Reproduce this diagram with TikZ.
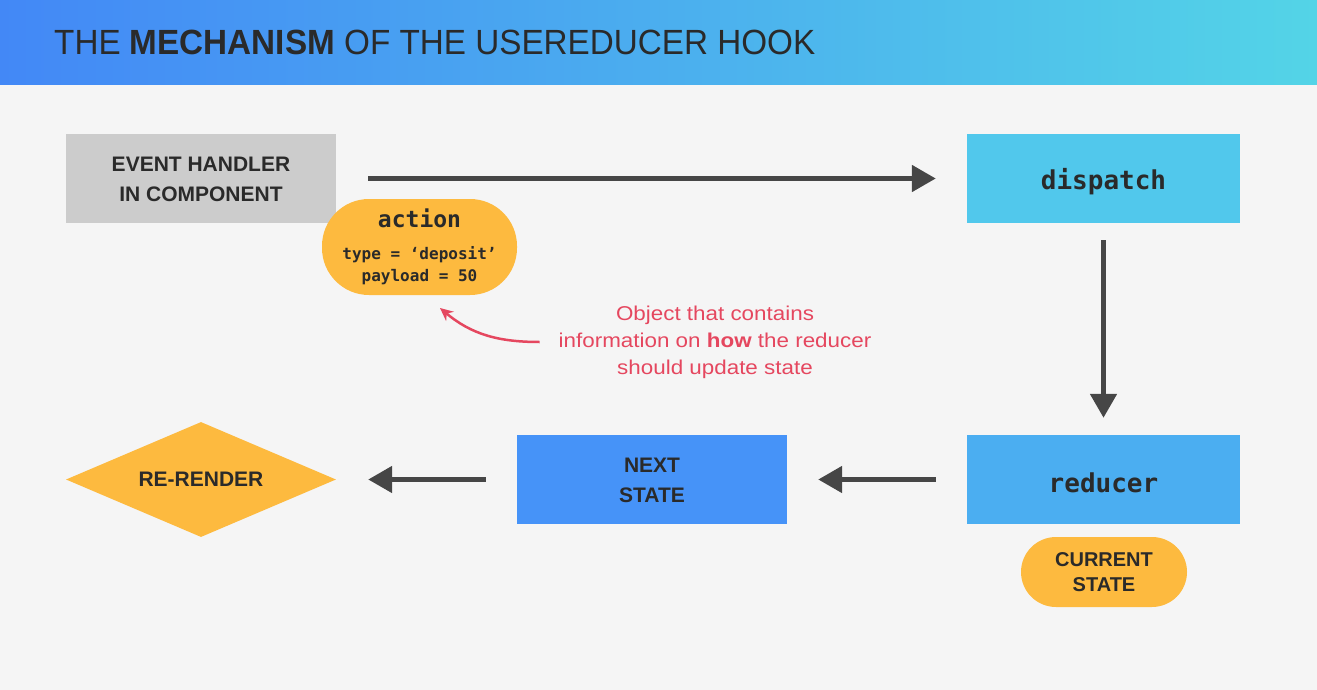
\documentclass[tikz,border=0pt]{standalone}
\usepackage{fontspec}
\setmainfont{Liberation Sans}
\setmonofont{DejaVu Sans Mono}
\usetikzlibrary{shapes.geometric,arrows.meta}
\definecolor{bg}{HTML}{F5F5F5}
\definecolor{hleft}{HTML}{4388F6}
\definecolor{hright}{HTML}{53D4E7}
\definecolor{ink}{HTML}{2A2A2A}
\definecolor{grayb}{HTML}{CCCCCC}
\definecolor{cyanb}{HTML}{51C8EC}
\definecolor{redb}{HTML}{4BAEF1}
\definecolor{nextb}{HTML}{4693F8}
\definecolor{orng}{HTML}{FDBA3F}
\definecolor{arr}{HTML}{464646}
\definecolor{note}{HTML}{E5475F}
\newcommand\pushdown[2]{\raisebox{0pt}[\dimexpr\height+#1\relax][\depth]{#2}}
\tikzset{
  box/.style={minimum width=270pt, minimum height=89pt, inner sep=0pt, align=center, text=ink},
  lbl/.style={font=\fontsize{21}{30}\selectfont\bfseries},
  code/.style={font=\fontsize{26}{30}\ttfamily\bfseries},
  flow/.style={draw=arr, line width=5pt, -{Triangle[length=24pt,width=26pt]}},
}
\begin{document}
\begin{tikzpicture}[x=1pt,y=-1pt]
\fill[bg] (0,0) rectangle (1317,690);
\shade[left color=hleft, right color=hright] (0,0) rectangle (1317,85);
\useasboundingbox (0,0) rectangle (1317,690);
\node[anchor=west, text=ink, inner sep=0pt] (title) at (54,42)
  {\scalebox{0.95}[1]{\fontsize{35}{40}\selectfont THE \textbf{MECHANISM} OF THE USEREDUCER HOOK}};

\node[box, fill=grayb, lbl] (event) at (201,178.5) {\pushdown{4pt}{\begin{tabular}{@{}c@{}}EVENT HANDLER\\IN COMPONENT\end{tabular}}};
\node[box, fill=cyanb, minimum width=273pt, code] (dispatch) at (1103.5,178.5) {\pushdown{6pt}{dispatch}};
\node[box, fill=redb, minimum width=273pt, code] (reducer) at (1103.5,479.5) {\pushdown{6pt}{reducer}};
\node[box, fill=nextb, lbl] (next) at (652,479.5) {\pushdown{4pt}{\begin{tabular}{@{}c@{}}NEXT\\STATE\end{tabular}}};
\node[diamond, fill=orng, minimum width=270pt, minimum height=115pt, inner sep=0pt, aspect=2.35, text=ink, lbl] (render) at (201,479.5) {RE-RENDER};

\node[fill=orng, rounded corners=47pt, minimum width=195pt, minimum height=96pt, inner sep=0pt, align=center, text=ink, font=\fontsize{16}{22}\selectfont\ttfamily\bfseries] (action) at (419.5,247)
  {{\fontsize{23}{26}\selectfont action}\\[10pt]
   type = ‘deposit’\\
   payload = 50};

\node[fill=orng, rounded corners=35pt, minimum width=166pt, minimum height=70pt, inner sep=0pt, align=center, text=ink, font=\fontsize{20}{25}\selectfont\bfseries] (current) at (1104,572) {CURRENT\\STATE};

\node[text=note, align=center, font=\fontsize{20}{27}\selectfont, inner sep=0pt] (notetxt) at (715,342)
  {\scalebox{1.12}[1]{Object that contains}\\\scalebox{1.12}[1]{information on \textbf{how} the reducer}\\\scalebox{1.12}[1]{should update state}};

\coordinate (tip) at (440,308);
\draw[note, line width=2.5pt, -{Stealth[length=13pt,width=12pt]}] ([xshift=-19pt]notetxt.west) to[out=180,in=-40] (tip);

\draw[flow, shorten <=32pt, shorten >=31pt] (event.east) -- (dispatch.west);
\draw[flow, shorten <=17pt, shorten >=17pt] (dispatch.south) -- (reducer.north);
\draw[flow, shorten <=31pt, shorten >=31pt] (reducer.west) -- (next.east);
\draw[flow, shorten <=31pt, shorten >=32pt] (next.west) -- (render.east);
\end{tikzpicture}
\end{document}
